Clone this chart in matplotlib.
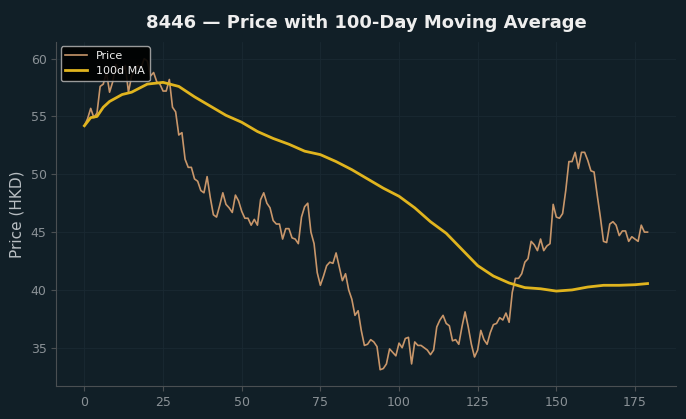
import matplotlib.pyplot as plt

# closing prices, one per trading day
price = [54.2, 54.8, 55.7, 54.9, 55.3, 57.6, 57.8, 58.8, 57.1, 58.0,
         59.5, 58.9, 58.8, 59.4, 57.1, 58.5, 59.0, 59.4, 59.2, 60.0,
         59.8, 58.5, 58.8, 58.0, 57.8, 57.2, 57.2, 58.2, 55.8, 55.4,
         53.4, 53.6, 51.3, 50.6, 50.6, 49.6, 49.4, 48.6, 48.4, 49.8,
         48.0, 46.5, 46.3, 47.3, 48.4, 47.4, 47.1, 46.7, 48.2, 47.7,
         46.8, 46.2, 46.2, 45.6, 46.1, 45.6, 47.8, 48.4, 47.5, 47.1,
         46.0, 45.7, 45.7, 44.4, 45.3, 45.3, 44.5, 44.4, 44.0, 46.3,
         47.2, 47.5, 45.0, 44.0, 41.5, 40.4, 41.2, 42.1, 42.4, 42.3,
         43.2, 42.0, 40.8, 41.4, 40.0, 39.2, 37.8, 38.2, 36.5, 35.2,
         35.3, 35.7, 35.5, 35.1, 33.1, 33.2, 33.6, 34.9, 34.6, 34.3,
         35.4, 35.0, 35.8, 35.9, 33.6, 35.5, 35.2, 35.2, 35.0, 34.8,
         34.4, 34.8, 36.8, 37.4, 37.8, 37.1, 36.9, 35.6, 35.7, 35.3,
         36.8, 38.1, 36.8, 35.3, 34.2, 34.8, 36.5, 35.7, 35.3, 36.3,
         37.0, 37.1, 37.6, 37.4, 38.0, 37.2, 39.8, 41.0, 41.0, 41.4,
         42.4, 42.7, 44.2, 43.9, 43.4, 44.4, 43.4, 43.8, 44.0, 47.4,
         46.3, 46.2, 46.6, 48.6, 51.1, 51.1, 51.9, 50.5, 51.9, 51.9,
         51.2, 50.3, 50.2, 48.2, 46.3, 44.2, 44.1, 45.7, 45.9, 45.6,
         44.7, 45.1, 45.1, 44.2, 44.6, 44.4, 44.2, 45.6, 45.0, 45.0]
days = list(range(len(price)))

# 100-day moving average at these days
ma_days = [0, 2, 4, 6, 8, 10, 12, 15, 20, 25, 30, 35, 40, 45, 50, 55, 60,
           65, 70, 75, 80, 85, 90, 95, 100, 105, 110, 115, 120, 125, 130,
           135, 140, 145, 150, 155, 160, 165, 170, 175, 179]
ma = [54.2, 54.9, 55.0, 55.8, 56.3, 56.6, 56.9, 57.1, 57.8, 57.95, 57.6,
      56.7, 55.9, 55.1, 54.5, 53.7, 53.1, 52.6, 52.0, 51.7, 51.1, 50.4,
      49.6, 48.8, 48.1, 47.1, 45.9, 44.9, 43.5, 42.1, 41.2, 40.6, 40.2,
      40.1, 39.9, 40.0, 40.25, 40.4, 40.4, 40.45, 40.55]

bg = "#111f27"
plt.rcParams["font.family"] = "DejaVu Sans"

fig = plt.figure(figsize=(6.86, 4.19), dpi=100, facecolor=bg)
ax = fig.add_axes([0.082, 0.079, 0.903, 0.821], facecolor=bg)

ax.plot(days, price, color="#c8966a", lw=1.2, label="Price")
ax.plot(ma_days, ma, color="#e0b41e", lw=2.0, label="100d MA")

ax.set_xlim(-8.95, 187.95)
ax.set_ylim(31.7, 61.45)
ax.set_xticks([0, 25, 50, 75, 100, 125, 150, 175])
ax.set_yticks([35, 40, 45, 50, 55, 60])

ax.grid(True, color="#1a2932", lw=0.6)
ax.set_axisbelow(True)
for s in ["top", "right"]:
    ax.spines[s].set_visible(False)
for s in ["left", "bottom"]:
    ax.spines[s].set_color("#4a4f52")
ax.tick_params(colors="#4a4f52", labelcolor="#8a9196", labelsize=9)

ax.set_ylabel("Price (HKD)", color="#b8bec2", fontsize=11)
ax.set_title("8446 — Price with 100-Day Moving Average", color="#eeeeee",
             fontsize=13, fontweight="bold", pad=10)

leg = ax.legend(loc="upper left", fontsize=8, facecolor="#000000",
                edgecolor="#aaaaaa", labelcolor="#eeeeee", framealpha=0.9,
                borderaxespad=0.4)

fig.savefig("out.png", dpi=100, facecolor=bg)
